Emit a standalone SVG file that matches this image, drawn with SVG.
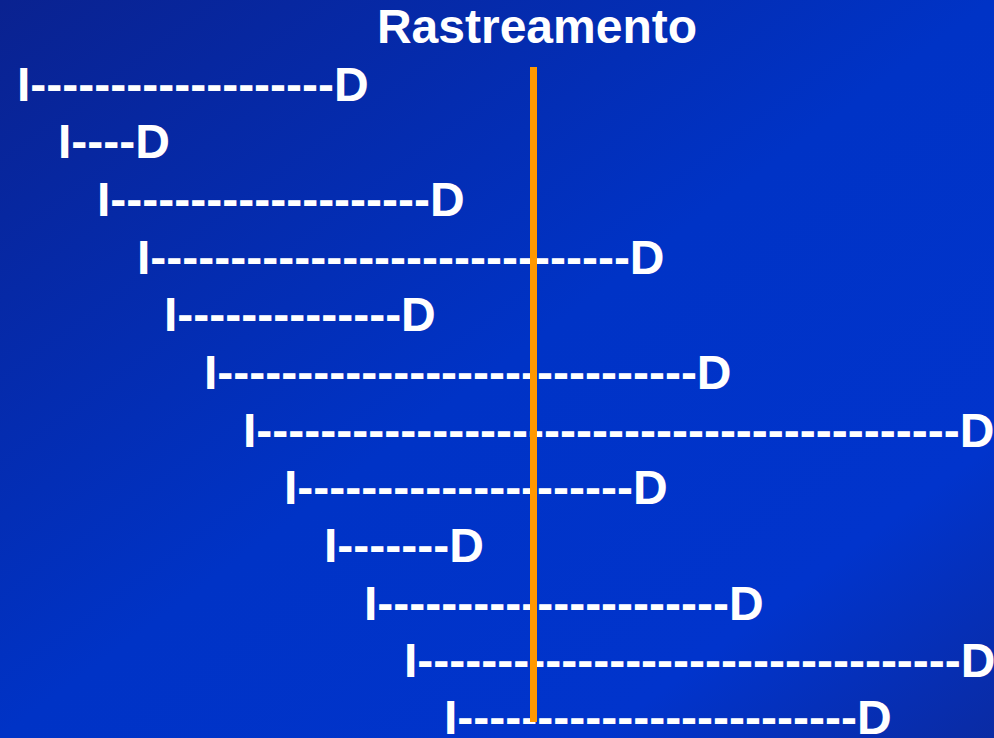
<svg xmlns="http://www.w3.org/2000/svg" width="994" height="738" viewBox="0 0 994 738">
<defs>
<linearGradient id="bg" x1="0" y1="0" x2="1" y2="1">
<stop offset="0" stop-color="#0a2290"/>
<stop offset="0.5" stop-color="#0033c6"/>
<stop offset="0.8" stop-color="#0134cc"/>
<stop offset="1" stop-color="#0a2ba4"/>
</linearGradient>
<style>
.t{font-family:"Liberation Sans",Arial,sans-serif;font-weight:bold;font-size:48px;fill:#ffffff;white-space:pre}
</style>
</defs>
<rect width="994" height="738" fill="url(#bg)"/>
<text class="t" x="537" y="43" text-anchor="middle">Rastreamento</text>
<g id="rows">
<g id="r1"><text class="t" x="17" y="101">I-------------------D</text></g>
<g id="r2"><text class="t" x="58" y="158">I----D</text></g>
<g id="r3"><text class="t" x="97" y="216">I--------------------D</text></g>
<g id="r4"><text class="t" x="137" y="274">I------------------------------D</text></g>
<g id="r5"><text class="t" x="164" y="331">I--------------D</text></g>
<g id="r6"><text class="t" x="204" y="389">I------------------------------D</text></g>
<g id="r7"><text class="t" x="243" y="447">I--------------------------------------------D</text></g>
<g id="r8"><text class="t" x="284" y="504">I---------------------D</text></g>
<g id="r9"><text class="t" x="324" y="562">I-------D</text></g>
<g id="r10"><text class="t" x="364" y="620">I----------------------D</text></g>
<g id="r11"><text class="t" x="404" y="677">I----------------------------------D</text></g>
<g id="r12"><text class="t" x="444" y="734">I-------------------------D</text></g>
</g>
<g id="connectors">
<line x1="533.5" y1="67" x2="533.5" y2="722" stroke="#ff9900" stroke-width="7"/>
</g>
</svg>
